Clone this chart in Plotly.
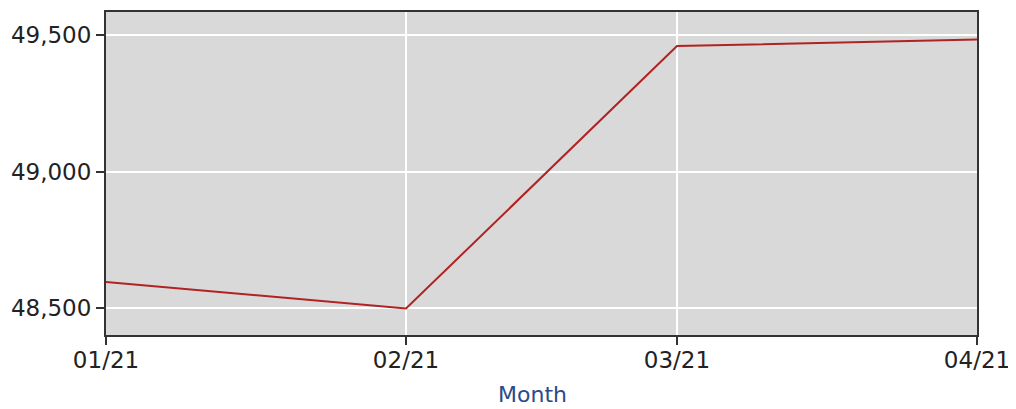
import plotly.graph_objects as go

months = ["2021-01-01", "2021-02-01", "2021-03-01", "2021-04-01"]
values = [48595, 48497, 49461, 49485]
tick_labels = ["01/21", "02/21", "03/21", "04/21"]
y_ticks = [48500, 49000, 49500]

fig = go.Figure()
fig.add_trace(go.Scatter(
    x=months, y=values, mode="lines",
    line=dict(color="#b22222", width=2),
    showlegend=False,
))

axis_common = dict(
    showline=True, linecolor="#333333", linewidth=2, mirror=True,
    showgrid=True, gridcolor="#ffffff", gridwidth=2,
    ticks="outside", ticklen=8, tickcolor="#333333", tickwidth=2,
    zeroline=False,
    tickfont=dict(family="DejaVu Sans", size=23, color="#222222"),
)

fig.update_xaxes(
    type="date", range=[months[0], months[-1]],
    tickvals=months, ticktext=tick_labels,
    ticklabelstandoff=-5,
    **axis_common,
)
fig.update_yaxes(
    range=[48400, 49586],
    tickvals=y_ticks, tickformat=",d",
    **axis_common,
)

fig.add_annotation(
    text="Month", xref="paper", yref="paper", x=0.49, y=0,
    xanchor="center", yanchor="middle", yshift=-59, showarrow=False,
    font=dict(family="DejaVu Sans", size=22, color="#2b4a8b"),
)

# The page body has an 8px default margin; compensate so the plot area
# lands where it does in the reference.
fig.update_layout(
    width=1008, height=401,
    margin=dict(l=98, r=39, t=2, b=74),
    plot_bgcolor="#d9d9d9", paper_bgcolor="#ffffff",
)

fig.write_html("out.html")
